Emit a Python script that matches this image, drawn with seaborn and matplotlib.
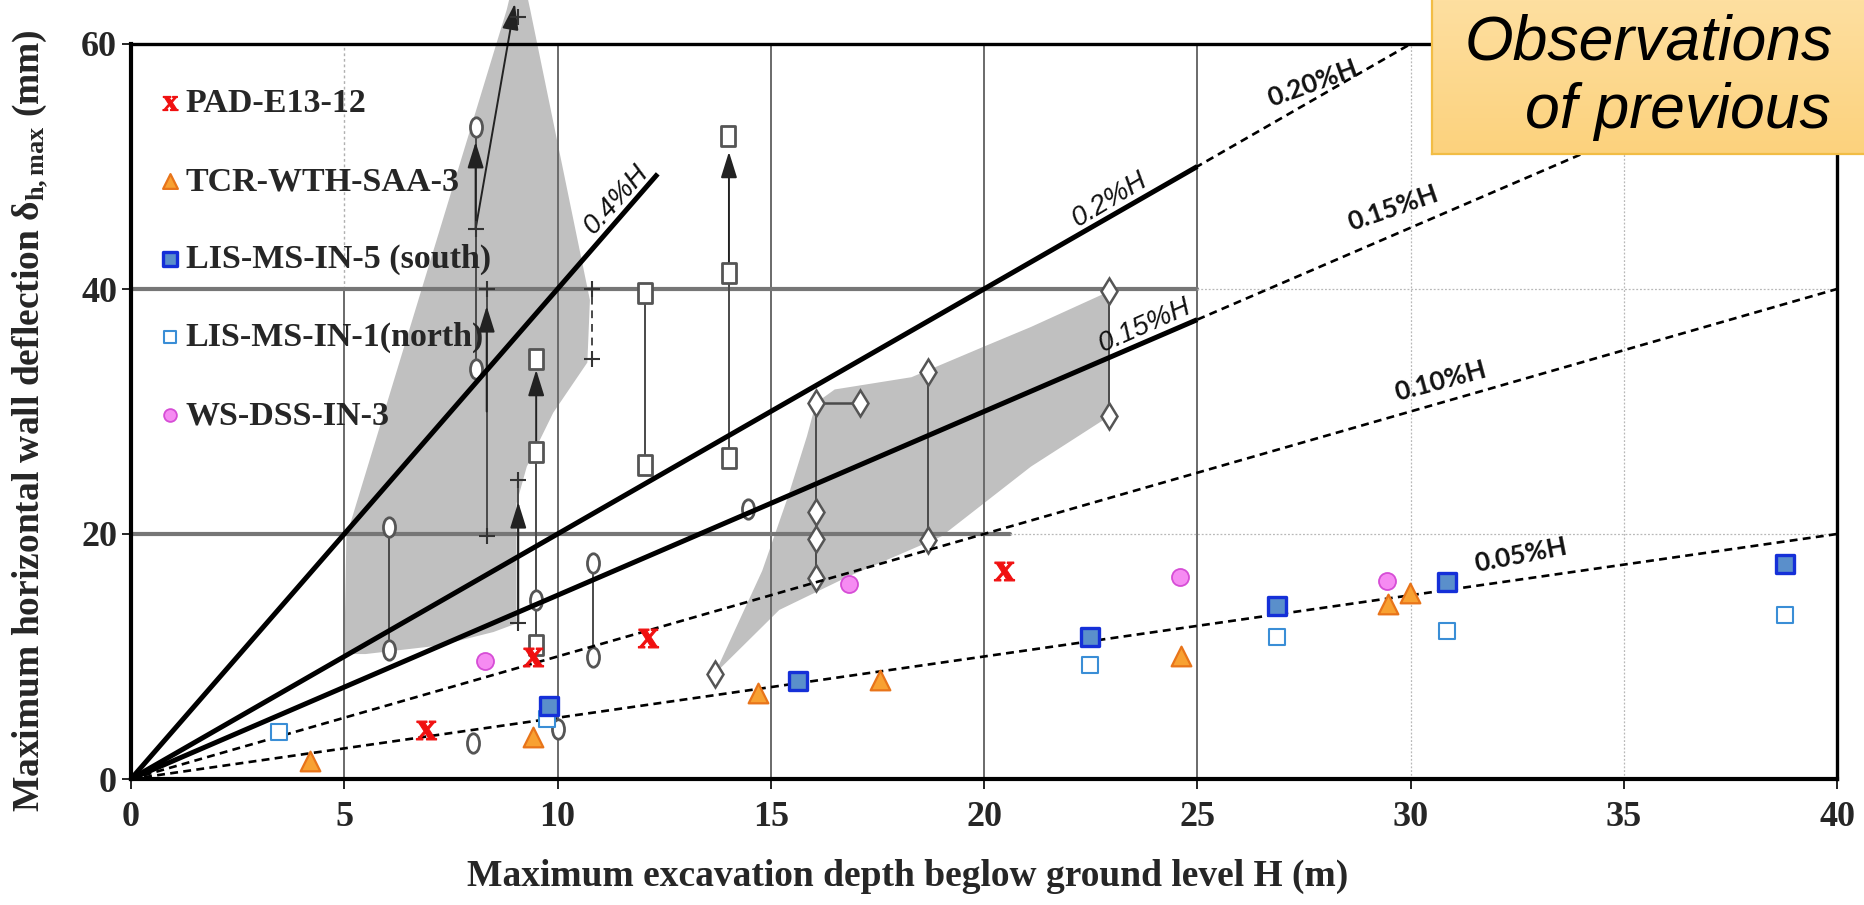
import numpy as np
import matplotlib
matplotlib.use("Agg")
import matplotlib.pyplot as plt
import seaborn as sns
import pandas as pd
from matplotlib.path import Path

sns.set_theme(style="white")
plt.rcParams["font.family"] = ["Liberation Serif", "DejaVu Sans"]
plt.rcParams["mathtext.fontset"] = "custom"
plt.rcParams["mathtext.rm"] = "Liberation Serif:bold"
plt.rcParams["mathtext.bf"] = "Liberation Serif:bold"
plt.rcParams["mathtext.it"] = "Liberation Serif:italic:bold"

# ---------------- data ----------------
pad_h = [6.92, 9.42, 12.12, 20.48]
pad_d = [4.0, 10.0, 11.47, 16.95]
tcr_h = [4.2, 9.43, 14.7, 17.55, 24.62, 29.47, 29.98]
tcr_d = [1.45, 3.45, 7.0, 8.05, 10.04, 14.3, 15.2]
lis5_h = [9.8, 15.63, 22.48, 26.87, 30.85, 38.77]
lis5_d = [5.95, 8.03, 11.57, 14.13, 16.1, 17.54]
lis1_h = [3.48, 9.76, 22.48, 26.87, 30.85, 38.77]
lis1_d = [3.87, 4.86, 9.33, 11.57, 12.1, 13.37]
ws_h = [8.3, 16.84, 24.6, 29.45]
ws_d = [9.6, 15.95, 16.5, 16.18]
series_labels = ["PAD-E13-12", "TCR-WTH-SAA-3", "LIS-MS-IN-5 (south)",
                 "LIS-MS-IN-1(north)", "WS-DSS-IN-3"]

# reference lines  delta = ratio% * H
solid_ratio = [0.4, 0.2, 0.15]
solid_hmax = [12.35, 25.0, 25.0]
solid_labels = ["0.4%H", "0.2%H", "0.15%H"]
solid_lab_h = [11.6, 23.1, 23.9]
solid_rot = [48, 31, 24]
dashed_ratio = [0.20, 0.15, 0.10, 0.05]
dashed_hmax = [30.0, 40.0, 40.0, 40.0]
dashed_labels = ["0.20%H", "0.15%H", "0.10%H", "0.05%H"]
dashed_lab_h = [27.7, 29.6, 30.7, 32.6]
dashed_lab_d = [56.8, 46.6, 32.5, 18.3]
dashed_rot = [20, 19, 15, 11]

# background case histories: shaded envelopes
env1_h = [5.0, 5.05, 8.81, 9.1, 9.36, 10.76, 10.7, 9.9, 9.28, 9.04, 9.04, 8.5, 7.24, 5.5, 5.0]
env1_d = [10.2, 19.8, 62.8, 67.0, 62.8, 39.1, 34.0, 29.9, 25.5, 22.5, 12.7, 12.0, 10.9, 10.2, 10.2]
env2_h = [13.69, 14.8, 15.4, 15.85, 16.06, 16.5, 18.3, 20.0, 21.1, 22.93, 22.93, 21.1, 19.0, 16.8, 15.2]
env2_d = [8.6, 17.0, 23.0, 28.0, 30.7, 31.8, 32.8, 35.3, 36.9, 39.8, 29.6, 25.5, 19.8, 16.5, 13.8]

# range bars (vertical)
bar_h = [6.06, 8.08, 8.34, 9.08, 9.5, 10.84, 12.05, 14.02, 16.06, 18.68, 22.93]
bar_lo = [10.5, 33.5, 19.8, 12.7, 10.9, 10.0, 25.6, 26.2, 16.4, 19.5, 29.6]
bar_hi = [20.6, 53.2, 40.0, 24.4, 26.7, 17.6, 39.7, 41.3, 30.7, 33.2, 39.8]
dbar_h = [10.8]
dbar_lo = [34.3]
dbar_hi = [40.0]
link_h = [16.06, 17.09]
link_d = [30.7, 30.7]

ell_h = [6.06, 6.06, 8.08, 8.08, 10.84, 10.84, 9.5, 14.46, 8.03, 10.02]
ell_d = [20.6, 10.5, 53.2, 33.5, 17.6, 10.0, 14.6, 22.0, 2.9, 4.1]
sq_h = [9.5, 9.5, 9.5, 12.05, 12.05, 14.02, 14.02, 14.0]
sq_d = [10.9, 26.7, 34.3, 25.6, 39.7, 26.2, 41.3, 52.5]
dia_h = [16.06, 16.06, 16.06, 16.06, 17.09, 18.68, 18.68, 22.93, 22.93, 13.69]
dia_d = [30.7, 21.8, 19.6, 16.4, 30.7, 33.2, 19.5, 39.8, 29.6, 8.6]
plus_h = [8.08, 9.08, 8.34, 8.34, 9.08, 9.08, 10.8, 10.8]
plus_d = [44.9, 62.2, 19.8, 40.0, 12.7, 24.4, 34.3, 40.0]
arr_h0 = [8.08, 8.08, 8.34, 9.08, 9.5, 14.02]
arr_d0 = [44.9, 44.9, 30.0, 12.7, 26.7, 41.3]
arr_h1 = [8.08, 9.0, 8.34, 9.08, 9.5, 14.02]
arr_d1 = [52.0, 63.3, 38.6, 22.6, 33.4, 51.2]

xticks = [0, 5, 10, 15, 20, 25, 30, 35, 40]
yticks = [0, 20, 40, 60]
xlabel = "Maximum excavation depth beglow ground level H (m)"
ylabel = r"Maximum horizontal wall deflection $\mathbf{\delta_{h,max}}$ (mm)"
box_line1 = "Observations"
box_line2 = "of previous"

# ---------------- figure ----------------
W, Hh = 1864, 905
fig = plt.figure(figsize=(W / 100, Hh / 100), dpi=100)
ax = fig.add_axes([131 / W, 1 - 779 / Hh, (1837 - 131) / W, (779 - 44) / Hh])
ax.set_xlim(0, 40)
ax.set_ylim(0, 60)
ax.set_facecolor("white")

GRAY_FILL = "#C0C0C0"
GRAY_LINE = "#6A6A6A"
MK_EDGE = "#555555"

# envelopes
ax.fill(env1_h, env1_d, color=GRAY_FILL, lw=0, zorder=1, clip_on=False)
ax.fill(env2_h, env2_d, color=GRAY_FILL, lw=0, zorder=1)

# grid of the background figure
for xv in [5, 10, 15, 20, 25]:
    top = 40 if xv == 5 else 60
    ax.plot([xv, xv], [0, top], color=GRAY_LINE, lw=1.4, zorder=1.5)
ax.plot([5, 5], [40, 60], color="#B0B0B0", lw=1.0, ls=(0, (2, 2)), zorder=1.5)
for xv in [30, 35]:
    ax.plot([xv, xv], [0, 60], color="#B8B8B8", lw=0.9, ls=(0, (1.5, 1.5)), zorder=1.5)
ax.plot([0, 25], [40, 40], color="#767676", lw=3.0, zorder=1.5)
ax.plot([0, 20.6], [20, 20], color="#767676", lw=3.0, zorder=1.5)
ax.plot([25, 40], [40, 40], color="#B8B8B8", lw=0.9, ls=(0, (1.5, 1.5)), zorder=1.5)
ax.plot([20.6, 40], [20, 20], color="#B8B8B8", lw=0.9, ls=(0, (1.5, 1.5)), zorder=1.5)

# range bars
for h, lo, hi in zip(bar_h, bar_lo, bar_hi):
    ax.plot([h, h], [lo, hi], color="#4A4A4A", lw=1.4, zorder=2)
for h, lo, hi in zip(dbar_h, dbar_lo, dbar_hi):
    ax.plot([h, h], [lo, hi], color="#4A4A4A", lw=1.4, ls=(0, (4, 3)), zorder=2)
ax.plot(link_h, link_d, color="#4A4A4A", lw=1.8, zorder=2)

for h0, d0, h1, d1 in zip(arr_h0, arr_d0, arr_h1, arr_d1):
    ax.annotate("", xy=(h1, d1), xytext=(h0, d0), annotation_clip=False, zorder=2.2,
                arrowprops=dict(arrowstyle="-|>,head_length=0.8,head_width=0.25",
                                mutation_scale=20, color="#222222", lw=1.4,
                                shrinkA=0, shrinkB=0))

circ = Path.unit_circle()
ell_path = Path(circ.vertices * np.array([0.62, 1.0]), circ.codes)
sq_path = Path([(-0.36, -0.5), (0.36, -0.5), (0.36, 0.5), (-0.36, 0.5), (-0.36, -0.5)],
               [Path.MOVETO, Path.LINETO, Path.LINETO, Path.LINETO, Path.CLOSEPOLY])
ax.plot(ell_h, ell_d, ls="none", marker=ell_path, ms=14, mfc="white", mec=MK_EDGE, mew=2.0, zorder=2.5)
ax.plot(sq_h, sq_d, ls="none", marker=sq_path, ms=14, mfc="white", mec=MK_EDGE, mew=2.0, zorder=2.5)
ax.plot(dia_h, dia_d, ls="none", marker="d", ms=13, mfc="white", mec=MK_EDGE, mew=1.8, zorder=2.5)
ax.plot(plus_h, plus_d, ls="none", marker="+", ms=11, mec="#333333", mew=1.5, zorder=2.5, clip_on=False)

# reference lines
for r, hm in zip(solid_ratio, solid_hmax):
    ax.plot([0, hm], [0, r * 10 * hm], color="black", lw=3.6, solid_capstyle="butt", zorder=3)
for r, hm in zip(dashed_ratio, dashed_hmax):
    ax.plot([0, hm], [0, r * 10 * hm], color="black", lw=1.9, ls=(0, (3, 2)), zorder=3.2)

for lab, r, hx, rot in zip(solid_labels, solid_ratio, solid_lab_h, solid_rot):
    ax.text(hx, r * 10 * hx + 0.2, lab, rotation=rot, rotation_mode="anchor",
            ha="center", va="bottom", fontsize=20, style="italic",
            family="Liberation Sans", color="#111111", zorder=3.5)
for lab, hx, dy, rot in zip(dashed_labels, dashed_lab_h, dashed_lab_d, dashed_rot):
    ax.text(hx, dy, lab, rotation=rot, rotation_mode="anchor", ha="center", va="center",
            fontsize=19, fontweight="bold", family="Lato", color="#111111", zorder=3.5)

# monitored data (seaborn)
sns.scatterplot(x=pad_h, y=pad_d, marker=r"$\mathbf{x}$", s=210, color="#F01010",
                edgecolor="#F01010", linewidth=0.8, label=series_labels[0], ax=ax, zorder=4)
sns.scatterplot(x=tcr_h, y=tcr_d, marker="^", s=200, color="#F8A132",
                edgecolor="#E8741A", linewidth=1.6, label=series_labels[1], ax=ax, zorder=4)
sns.scatterplot(x=lis5_h, y=lis5_d, marker="s", s=170, color="#5A8FCB",
                edgecolor="#1530D8", linewidth=2.4, label=series_labels[2], ax=ax, zorder=4.2)
sns.scatterplot(x=lis1_h, y=lis1_d, marker="s", s=125, color="white",
                edgecolor="#3A8ED6", linewidth=1.5, label=series_labels[3], ax=ax, zorder=4)
sns.scatterplot(x=ws_h, y=ws_d, marker="o", s=150, color="#F68BF2",
                edgecolor="#D64DD6", linewidth=1.3, label=series_labels[4], ax=ax, zorder=4)

leg = ax.legend(loc="upper left", bbox_to_anchor=(0.019, 0.94), frameon=False,
                prop={"family": "Liberation Serif", "weight": "bold", "size": 24.5},
                labelspacing=1.38, handlelength=0.4, handletextpad=0.25,
                borderpad=0, borderaxespad=0, markerscale=0.75)
leg.set_zorder(5)

# axes styling
for side in ["left", "bottom"]:
    ax.spines[side].set_linewidth(3.0)
    ax.spines[side].set_color("black")
for side in ["top", "right"]:
    ax.spines[side].set_linewidth(2.4)
    ax.spines[side].set_color("black")
ax.set_xticks(xticks)
ax.set_yticks(yticks)
ax.set_xticklabels([str(t) for t in xticks])
ax.set_yticklabels([str(t) for t in yticks])
ax.tick_params(axis="x", direction="out", length=7, width=1.2, color="black",
               labelsize=26, pad=9, bottom=True)
ax.tick_params(axis="y", direction="out", length=6.5, width=1.2, color="black",
               labelsize=26, pad=3.5, left=True)
for t in ax.get_xticklabels() + ax.get_yticklabels():
    t.set_fontweight("bold")
    t.set_family("Liberation Serif")
ax.grid(False)

ax.set_xlabel(xlabel, fontsize=27, fontweight="bold", family="Liberation Serif")
ax.xaxis.label.set_va("center")
ax.xaxis.set_label_coords((908 - 131) / 1706, (779 - 876) / 735)
ax.set_ylabel(ylabel, fontsize=27, fontweight="bold", family="Liberation Serif")
ax.yaxis.label.set_va("center")
ax.yaxis.set_label_coords((30 - 131) / 1706, (779 - 421) / 735)

# title banner (cropped at the figure edge)
bx0, by0 = 1432 / W, 1 - 154 / Hh
bax = fig.add_axes([bx0, by0, 1 - bx0, 1 - by0], zorder=10)
grad = np.linspace(0, 1, 64)[:, None]
c_top = np.array([254, 223, 160]) / 255
c_bot = np.array([252, 210, 125]) / 255
img = c_top[None, None, :] * (1 - grad[:, :, None]) + c_bot[None, None, :] * grad[:, :, None]
bax.imshow(img, aspect="auto", extent=[0, 1, 0, 1], origin="upper")
bax.set_xlim(0, 1)
bax.set_ylim(0, 1)
bax.set_xticks([])
bax.set_yticks([])
for s in ["left", "bottom"]:
    bax.spines[s].set_color("#F2BD45")
    bax.spines[s].set_linewidth(1.6)
for s in ["top", "right"]:
    bax.spines[s].set_visible(False)
fig.text(1465 / W, 1 - 60 / Hh, box_line1, fontsize=45, style="italic",
         family="Liberation Sans", color="black", va="baseline", ha="left", zorder=11)
fig.text(1525 / W, 1 - 128 / Hh, box_line2, fontsize=45, style="italic",
         family="Liberation Sans", color="black", va="baseline", ha="left", zorder=11)

fig.savefig("out.png", dpi=100)
